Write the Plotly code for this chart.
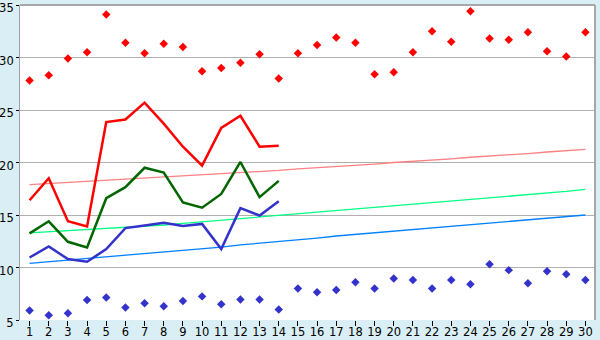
import plotly.graph_objects as go

days = list(range(1, 31))
days14 = list(range(1, 15))

max_points = [27.8, 28.3, 29.9, 30.5, 34.1, 31.4, 30.4, 31.3, 31.0, 28.7,
              29.0, 29.5, 30.3, 28.0, 30.4, 31.2, 31.9, 31.4, 28.4, 28.6,
              30.5, 32.5, 31.5, 34.4, 31.8, 31.7, 32.4, 30.6, 30.1, 32.4]
min_points = [5.9, 5.45, 5.65, 6.9, 7.15, 6.2, 6.6, 6.3, 6.8, 7.25,
              6.5, 6.95, 6.95, 6.0, 8.0, 7.65, 7.85, 8.6, 8.0, 8.95,
              8.8, 8.0, 8.8, 8.4, 10.3, 9.75, 8.5, 9.65, 9.35, 8.8]
red_line = [16.4, 18.5, 14.4, 13.9, 23.85, 24.1, 25.7, 23.7, 21.5, 19.7,
            23.3, 24.45, 21.5, 21.6]
green_line = [13.25, 14.4, 12.45, 11.9, 16.6, 17.65, 19.5, 19.05, 16.2, 15.7,
              17.0, 20.05, 16.7, 18.25]
blue_line = [10.95, 12.0, 10.8, 10.55, 11.75, 13.75, 14.0, 14.25, 13.95, 14.15,
             11.75, 15.65, 14.95, 16.3]
pink_trend = [17.9, 18.0, 18.1, 18.2, 18.3, 18.4, 18.5, 18.6, 18.7, 18.8,
              18.9, 19.0, 19.15, 19.25, 19.4, 19.5, 19.6, 19.75, 19.85, 20.0,
              20.1, 20.25, 20.35, 20.5, 20.6, 20.75, 20.85, 21.0, 21.1, 21.25]
green_trend = [13.3, 13.4, 13.5, 13.6, 13.7, 13.8, 13.9, 14.05, 14.2, 14.35,
               14.5, 14.65, 14.8, 14.95, 15.1, 15.25, 15.4, 15.55, 15.7, 15.85,
               16.0, 16.15, 16.3, 16.45, 16.6, 16.75, 16.9, 17.05, 17.25, 17.45]
blue_trend = [10.4, 10.55, 10.7, 10.85, 11.0, 11.15, 11.3, 11.45, 11.6, 11.8,
              11.95, 12.15, 12.3, 12.5, 12.65, 12.8, 13.0, 13.15, 13.35, 13.5,
              13.65, 13.8, 13.95, 14.1, 14.25, 14.4, 14.55, 14.7, 14.85, 15.0]
y_ticks = [5, 10, 15, 20, 25, 30, 35]

fig = go.Figure()
fig.add_trace(go.Scatter(x=days, y=pink_trend, mode="lines",
                         line=dict(color="#FF8080", width=1.3), hoverinfo="skip"))
fig.add_trace(go.Scatter(x=days, y=green_trend, mode="lines",
                         line=dict(color="#00FF80", width=1.3), hoverinfo="skip"))
fig.add_trace(go.Scatter(x=days, y=blue_trend, mode="lines",
                         line=dict(color="#0080FF", width=1.3), hoverinfo="skip"))
fig.add_trace(go.Scatter(x=days14, y=red_line, mode="lines",
                         line=dict(color="#FF0000", width=2.5)))
fig.add_trace(go.Scatter(x=days14, y=green_line, mode="lines",
                         line=dict(color="#006600", width=2.5)))
fig.add_trace(go.Scatter(x=days14, y=blue_line, mode="lines",
                         line=dict(color="#3333CC", width=2.5)))
fig.add_trace(go.Scatter(x=days, y=max_points, mode="markers",
                         marker=dict(symbol="diamond", size=6.5, color="#FF0000")))
fig.add_trace(go.Scatter(x=days, y=min_points, mode="markers",
                         marker=dict(symbol="diamond", size=6.5, color="#3333CC")))

fig.update_layout(
    width=600, height=340,
    margin=dict(l=20, r=5, t=5, b=20, autoexpand=False),
    paper_bgcolor="#DAEFF5",
    plot_bgcolor="#FFFFFF",
    showlegend=False,
    font=dict(family="DejaVu Sans", size=12, color="#000000"),
    xaxis=dict(range=[0.5, 30.5], tickmode="array", tickvals=days,
               ticktext=[str(d) for d in days], showgrid=False, zeroline=False,
               ticks="outside", ticklen=5, tickcolor="#000000", tickwidth=1,
               showline=False, fixedrange=True, automargin=False,
               ticklabelstandoff=-4, tickfont=dict(size=11.5)),
    yaxis=dict(range=[5, 35], tickmode="array", tickvals=y_ticks,
               ticktext=[str(v) for v in y_ticks], showgrid=True,
               gridcolor="#B0B0B0", gridwidth=1, zeroline=False,
               ticks="outside", ticklen=3, tickcolor="#000000", tickwidth=1,
               showline=True, linecolor="#A0A0A0", linewidth=1, fixedrange=True,
               ticklabeloverflow="allow", automargin=False,
               ticklabelshift=3, tickfont=dict(size=11.5)),
    shapes=[
        dict(type="line", xref="paper", yref="paper", x0=0, x1=1, y0=1, y1=1,
             line=dict(color="#A8A8A8", width=2)),
        dict(type="line", xref="paper", yref="paper", x0=1, x1=1, y0=0, y1=1,
             line=dict(color="#A8A8A8", width=2)),
    ],
)

fig.write_html("out.html")
